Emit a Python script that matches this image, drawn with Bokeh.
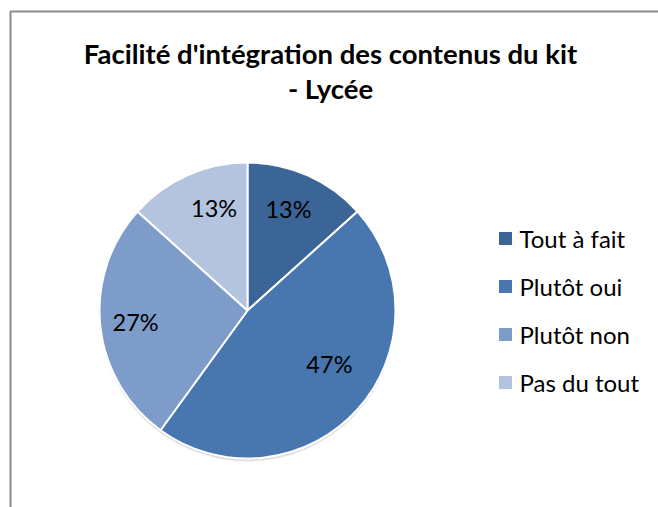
import numpy as np
from bokeh.plotting import figure
from bokeh.models import ColumnDataSource, Range1d
from bokeh.core.properties import value
from bokeh.embed import file_html
from bokeh.resources import INLINE

# ---- data ----
title_lines = ["Facilité d'intégration des contenus du kit", "- Lycée"]
categories = ["Tout à fait", "Plutôt oui", "Plutôt non", "Pas du tout"]
counts = [2, 7, 4, 2]
colors = ["#3B6596", "#4876AF", "#7E9CC9", "#B4C3DE"]
# label placement style (fraction of radius, angular nudge in degrees)
label_radius_frac = [0.74, 0.66, 0.76, 0.73]
label_angle_nudge = [-2, -9, 0, 6]

W, H = 658, 507
FONT = "Lato"


def Y(y_down):
    return H - y_down


p = figure(width=W, height=H, x_range=Range1d(0, W), y_range=Range1d(0, H),
           toolbar_location=None, output_backend="svg", min_border=0,
           x_axis_location=None, y_axis_location=None)
p.grid.visible = False
p.outline_line_color = None
p.background_fill_color = "white"
p.border_fill_color = "white"

# frame of the chart area (right and bottom edges fall outside the window)
p.line([10, 10, W], [0, Y(11), Y(11)], line_color="#8A8A8A", line_width=2)

# title
p.text(x=[330, 330], y=[Y(53), Y(88)], text=title_lines,
       text_font=value(FONT), text_font_style="bold", text_font_size="27.5px",
       text_align="center", text_baseline="middle", text_color="#000000")

# pie
cx, cy, R = 247, Y(310), 148
vals = np.array(counts, dtype=float)
frac = vals / vals.sum()
cum = np.concatenate([[0], np.cumsum(frac)])
start = np.pi / 2 - cum[1:] * 2 * np.pi
end = np.pi / 2 - cum[:-1] * 2 * np.pi
mid = (cum[:-1] + cum[1:]) / 2 * 2 * np.pi + np.radians(label_angle_nudge)
pct = [f"{int(round(f * 100))}%" for f in frac]

# soft shadow
p.circle(x=[cx], y=[cy - 3], radius=R, fill_color="#000000", fill_alpha=0.10,
         line_color=None)
p.circle(x=[cx], y=[cy - 1.5], radius=R, fill_color="#000000", fill_alpha=0.10,
         line_color=None)

src = ColumnDataSource(dict(start=start, end=end, color=colors, cat=categories))
p.wedge(x=cx, y=cy, radius=R, start_angle="start", end_angle="end",
        direction="anticlock", fill_color="color", line_color="white",
        line_width=2, source=src)

lx = [cx + f * R * np.sin(a) for f, a in zip(label_radius_frac, mid)]
ly = [cy + f * R * np.cos(a) for f, a in zip(label_radius_frac, mid)]
p.text(x=lx, y=ly, text=pct, text_font=value(FONT), text_font_size="23.5px",
       text_align="center", text_baseline="middle", text_color="#000000")

# legend
n = len(categories)
leg_y = [Y(238 + 48 * i) for i in range(n)]
p.rect(x=[505] * n, y=leg_y, width=13, height=13,
       fill_color=colors, line_color=None)
p.text(x=[519] * n, y=leg_y, text=categories,
       text_font=value(FONT), text_font_size="24px",
       text_align="left", text_baseline="middle", text_color="#000000")

open("out.html", "w").write(file_html(p, INLINE))
